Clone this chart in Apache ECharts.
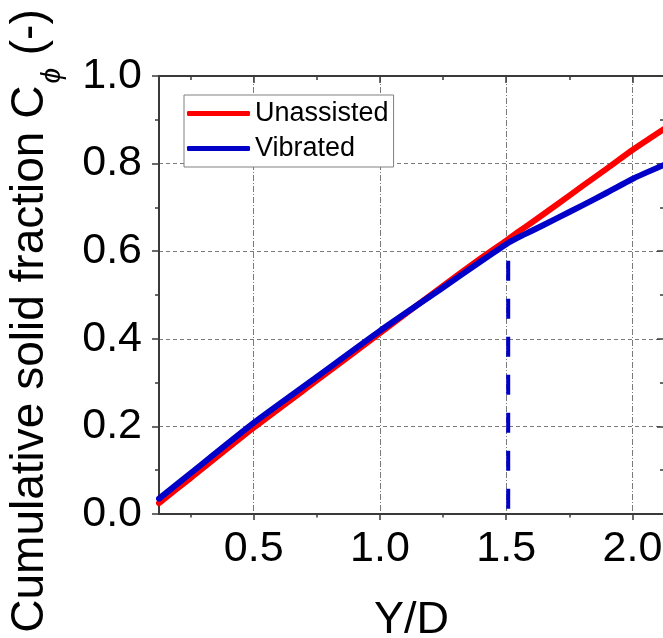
<!DOCTYPE html>
<html>
<head>
<meta charset="utf-8">
<script src="https://cdn.jsdelivr.net/npm/echarts@6/dist/echarts.min.js"></script>
<style>
html,body{margin:0;padding:0;background:#fff;}
#chart{width:663px;height:638px;}
</style>
</head>
<body>
<div id="chart"></div>
<script>
// ---- data ----
const xMin = 0.125;
const xMax = 2.125;
const xMajorTicks = [0.5, 1.0, 1.5, 2.0];
const xMinorTicks = [0.25, 0.75, 1.25, 1.75];
const yMin = 0;
const yMax = 1;
const yInterval = 0.2;

const seriesNames = ['Unassisted', 'Vibrated'];
const xValues = [0.125, 0.25, 0.5, 0.75, 1.0, 1.25, 1.4, 1.5, 1.55, 1.6, 1.7, 1.8, 1.9, 2.0, 2.125];
const unassistedValues = [0.025, 0.082, 0.197, 0.305, 0.413, 0.521, 0.584, 0.624, 0.645, 0.665, 0.706, 0.748, 0.789, 0.831, 0.879];
const vibratedValues   = [0.035, 0.093, 0.208, 0.313, 0.418, 0.517, 0.577, 0.616, 0.632, 0.646, 0.675, 0.704, 0.734, 0.765, 0.797];
const markerX = [1.508, 1.508];
const markerY = [0.578, 0.0];

const xTitle = 'Y/D';

// ---- chart ----
const FONT = "'Liberation Sans', Arial, sans-serif";
const AXIS_COLOR = '#3a3a3a';
const GRID_COLOR = '#7a7a7a';
const RED = '#ff0000';
const BLUE = '#0000c8';

function zip(xs, ys) { return xs.map((x, i) => [x, ys[i]]); }

const chart = echarts.init(document.getElementById('chart'), null, {renderer: 'canvas'});

const baseX = {
  type: 'value', min: xMin, max: xMax, gridIndex: 0,
  axisLine: {show: false, onZero: false},
  axisLabel: {show: false},
  splitLine: {show: false},
  axisTick: {show: false}
};

const option = {
  backgroundColor: '#ffffff',
  animation: false,
  textStyle: {fontFamily: FONT},
  grid: {left: 159, top: 76, width: 505, height: 438, containLabel: false, outerBoundsMode: 'none'},
  legend: {
    orient: 'vertical',
    left: 184, top: 95,
    data: seriesNames.map(n => ({name: n, icon: 'roundRect'})),
    itemWidth: 63, itemHeight: 5, itemGap: 8,
    padding: [5, 5, 5, 3],
    borderColor: '#808080', borderWidth: 1,
    backgroundColor: '#ffffff',
    textStyle: {fontFamily: FONT, fontSize: 27, color: '#000'}
  },
  xAxis: [
    Object.assign({}, baseX, {
      position: 'bottom',
      axisLine: {show: true, onZero: false, lineStyle: {color: AXIS_COLOR, width: 2}},
      axisTick: {show: true, inside: false, length: 6, customValues: xMajorTicks, lineStyle: {color: AXIS_COLOR, width: 1.5}},
      axisLabel: {show: true, customValues: xMajorTicks, margin: 14, fontSize: 43, fontFamily: FONT, color: '#000',
        formatter: v => Number(v).toFixed(1)},
      splitLine: {show: true, lineStyle: {color: GRID_COLOR, width: 1, type: [6, 2, 1, 2]}},
      name: xTitle, nameLocation: 'middle', nameGap: 84,
      nameTextStyle: {fontSize: 45, fontFamily: FONT, color: '#000'}
    }),
    Object.assign({}, baseX, {
      position: 'bottom',
      axisTick: {show: true, inside: false, length: 3.5, customValues: xMinorTicks, lineStyle: {color: AXIS_COLOR, width: 1.5}}
    }),
    Object.assign({}, baseX, {
      position: 'top',
      axisLine: {show: true, onZero: false, lineStyle: {color: AXIS_COLOR, width: 2}},
      axisTick: {show: true, inside: true, length: 7, customValues: xMajorTicks, lineStyle: {color: AXIS_COLOR, width: 1.5}}
    }),
    Object.assign({}, baseX, {
      position: 'top',
      axisTick: {show: true, inside: true, length: 4, customValues: xMinorTicks, lineStyle: {color: AXIS_COLOR, width: 1.5}}
    })
  ],
  yAxis: [
    {
      type: 'value', min: yMin, max: yMax, interval: yInterval, position: 'left',
      axisLine: {show: true, onZero: false, lineStyle: {color: AXIS_COLOR, width: 2}},
      axisTick: {show: true, inside: false, length: 7, lineStyle: {color: AXIS_COLOR, width: 1.5}},
      minorTick: {show: true, splitNumber: 2, length: 4, lineStyle: {color: AXIS_COLOR, width: 1.5}},
      axisLabel: {show: true, margin: 17, fontSize: 43, fontFamily: FONT, color: '#000',
        formatter: v => Number(v).toFixed(1)},
      splitLine: {show: true, lineStyle: {color: GRID_COLOR, width: 1, type: [4, 3]}}
    },
    {
      type: 'value', min: yMin, max: yMax, interval: yInterval, position: 'right',
      axisLine: {show: true, onZero: false, lineStyle: {color: AXIS_COLOR, width: 2}},
      axisTick: {show: true, inside: true, length: 7, lineStyle: {color: AXIS_COLOR, width: 1.5}},
      minorTick: {show: true, splitNumber: 2, length: 4, lineStyle: {color: AXIS_COLOR, width: 1.5}},
      axisLabel: {show: false},
      splitLine: {show: false}
    }
  ],
  graphic: [
    {
      type: 'text',
      x: 30, y: 321,
      rotation: Math.PI / 2,
      style: {
        text: '{m|Cumulative solid fraction C}{s|ϕ}{m| (-)}',
        align: 'center',
        verticalAlign: 'middle',
        fill: '#000',
        rich: {
          m: {fontSize: 46, fontFamily: FONT, lineHeight: 46, fill: '#000'},
          s: {fontSize: 28, fontFamily: FONT, fontStyle: 'italic', lineHeight: 28, padding: [44, 0, 0, 2], fill: '#000'}
        }
      }
    }
  ],
  series: [
    {
      name: seriesNames[0], type: 'line', xAxisIndex: 0, yAxisIndex: 0,
      data: zip(xValues, unassistedValues),
      symbol: 'none', showSymbol: false, smooth: 0.2,
      lineStyle: {color: RED, width: 6, cap: 'round', join: 'round'},
      itemStyle: {color: RED},
      z: 3
    },
    {
      name: seriesNames[1], type: 'line', xAxisIndex: 0, yAxisIndex: 0,
      data: zip(xValues, vibratedValues),
      symbol: 'none', showSymbol: false, smooth: 0.2,
      lineStyle: {color: BLUE, width: 6, cap: 'round', join: 'round'},
      itemStyle: {color: BLUE},
      z: 4
    },
    {
      name: 'marker', type: 'line', xAxisIndex: 0, yAxisIndex: 0,
      data: zip(markerX, markerY),
      symbol: 'none', showSymbol: false,
      lineStyle: {color: BLUE, width: 4, type: [20, 18], cap: 'butt'},
      itemStyle: {color: BLUE},
      z: 4, silent: true
    }
  ]
};
chart.setOption(option);
</script>
</body>
</html>
